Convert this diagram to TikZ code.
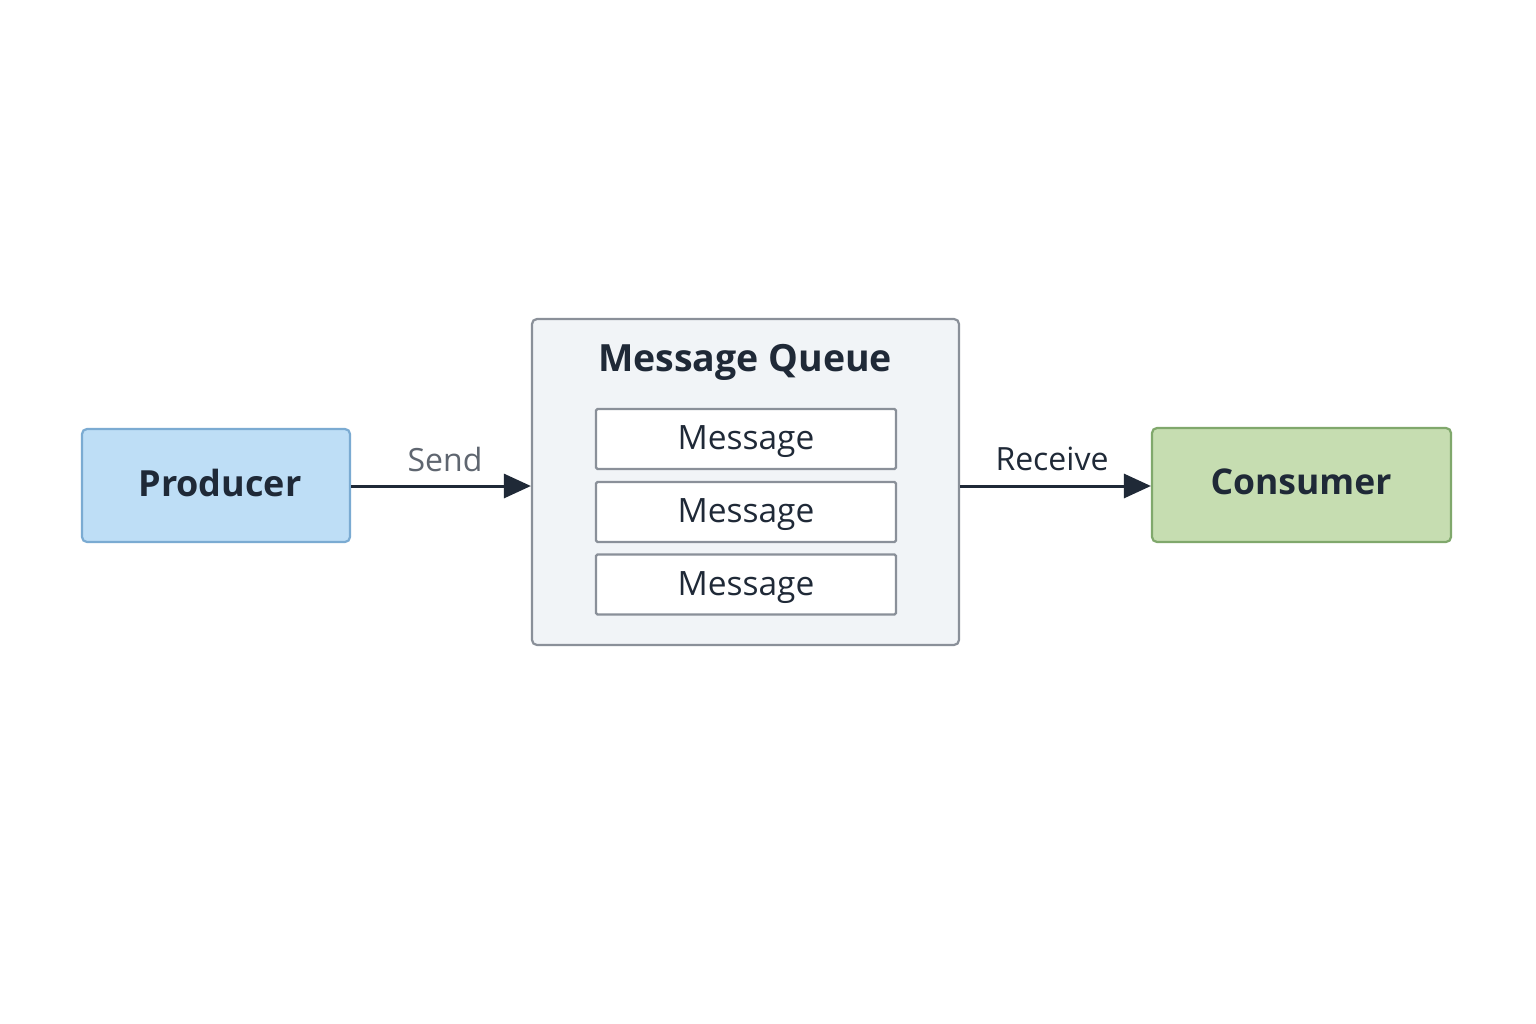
\documentclass[tikz,border=0pt]{standalone}
\usepackage{fontspec}
\setmainfont{Open Sans}
\usetikzlibrary{arrows.meta}
\definecolor{prodfill}{HTML}{BEDEF6}
\definecolor{proddraw}{HTML}{7BABD2}
\definecolor{consfill}{HTML}{C6DDB1}
\definecolor{consdraw}{HTML}{80A86C}
\definecolor{qfill}{HTML}{F1F4F7}
\definecolor{qdraw}{HTML}{8A9099}
\definecolor{ink}{HTML}{1F2937}
\definecolor{graytext}{HTML}{5F6670}
\begin{document}
\begin{tikzpicture}[x=1pt,y=-1pt,
  box/.style={rounded corners=5pt, line width=2.2pt},
  msgbox/.style={draw=qdraw, fill=white, line width=2.2pt, rounded corners=1.5pt, minimum width=300pt, minimum height=60pt, inner sep=0pt},
  msgtext/.style={text=ink, font=\fontsize{33.5}{38}\selectfont},
  conn/.style={draw=ink, line width=3pt, -{Triangle[length=27pt,width=24pt]}},
  lbl/.style={font=\fontsize{32}{36}\selectfont}
]
\useasboundingbox (0,0) rectangle (1536,1024);
\fill[white] (0,0) rectangle (1536,1024);
\node[box, draw=proddraw, fill=prodfill, minimum width=268pt, minimum height=113pt, inner sep=0pt] (prod) at (216,485.5) {};
\node[font=\fontsize{36}{40}\selectfont\bfseries, text=ink] (prodt) at (220,483) {Producer};
\node[box, draw=qdraw, fill=qfill, minimum width=427pt, minimum height=326pt, inner sep=0pt] (queue) at (745.5,482) {};
\node[font=\fontsize{37.5}{42}\selectfont\bfseries, text=ink] (qtitle) at (745,362) {Message Queue};
\node[msgbox] (m1) at (746,439) {};
\node[msgbox] (m2) at (746,512) {};
\node[msgbox] (m3) at (746,584.5) {};
\node[msgtext] (t1) at (746,442) {Message};
\node[msgtext] (t2) at (746,515) {Message};
\node[msgtext] (t3) at (746,587.5) {Message};
\node[box, draw=consdraw, fill=consfill, minimum width=299pt, minimum height=114pt, inner sep=0pt] (cons) at (1301.5,485) {};
\node[font=\fontsize{35.5}{40}\selectfont\bfseries, text=ink] (const) at (1301,482) {Consumer};
\draw[conn] (prod.east |- 0,486) -- (queue.west |- 0,486);
\draw[conn] (queue.east |- 0,486) -- (cons.west |- 0,486);
\node[lbl, text=graytext] (send) at (445,459) {Send};
\node[lbl, text=ink] (recv) at (1052,459) {Receive};
\end{tikzpicture}
\end{document}
